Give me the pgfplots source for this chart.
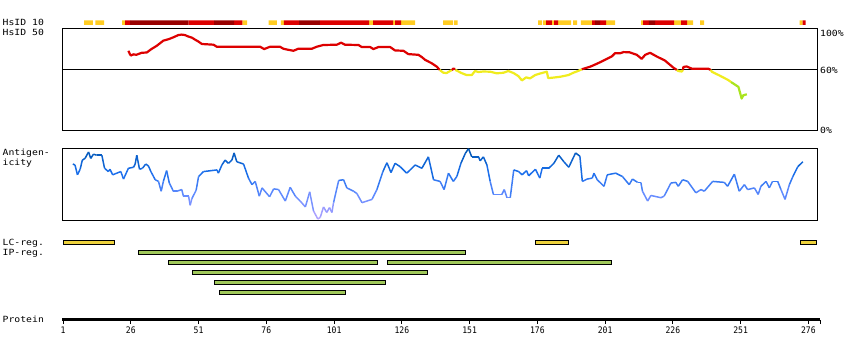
\documentclass[border=0pt]{standalone}
\usepackage{fontspec}
\usepackage{pgfplots}
\pgfplotsset{compat=1.18}
\newfontfamily\lblfont[FakeStretch=1.15]{DejaVu Sans Mono}
\newfontfamily\tickfamily[FakeStretch=0.9]{DejaVu Sans Mono}
\newcommand\lbl{\lblfont\fontsize{8.5}{9}\selectfont}
\newcommand\tickf{\tickfamily\fontsize{9}{10}\selectfont}
\definecolor{gold}{RGB}{255,204,34}
\definecolor{hred}{RGB}{221,0,0}
\definecolor{dred}{RGB}{153,0,0}
\definecolor{hyel}{RGB}{240,236,30}
\definecolor{hgrn}{RGB}{170,228,30}
\definecolor{lcfill}{RGB}{238,210,60}
\definecolor{ipfill}{RGB}{160,200,90}
\pgfplotsset{
  colormap={antig}{rgb255(0cm)=(185,165,255) rgb255(1cm)=(100,140,255) rgb255(2cm)=(25,110,235) rgb255(3cm)=(0,85,175)},
  panel/.style={scale only axis, xmin=0.6, xmax=279.2, width=755pt, anchor=south west,
    xtick=\empty, ytick=\empty, axis line style={line width=1pt}},
}
\begin{document}
\begin{tikzpicture}
\useasboundingbox (0pt,0pt) rectangle (850pt,-360pt);
% ---------- HsID 10 strip: one block per interval, blocks separated by nan jumps
\begin{axis}[panel, hide axis, height=4.6pt, ymin=0, ymax=1, at={(62pt,-24.9pt)}, unbounded coords=jump]
\addplot[fill=gold, draw=none] coordinates {
(8.75,0)(8.75,1)(12,1)(12,0)(12,nan)
(12.9,0)(12.9,1)(16.1,1)(16.1,0)(16.1,nan)
(22.8,0)(22.8,1)(23.9,1)(23.9,0)(23.9,nan)
(67.2,0)(67.2,1)(68.9,1)(68.9,0)(68.9,nan)
(76.8,0)(76.8,1)(79.9,1)(79.9,0)(79.9,nan)
(81.4,0)(81.4,1)(82.5,1)(82.5,0)(82.5,nan)
(113.9,0)(113.9,1)(115.4,1)(115.4,0)(115.4,nan)
(122.8,0)(122.8,1)(123.5,1)(123.5,0)(123.5,nan)
(125.7,0)(125.7,1)(130.9,1)(130.9,0)(130.9,nan)
(141.2,0)(141.2,1)(144.9,1)(144.9,0)(144.9,nan)
(145.3,0)(145.3,1)(146.6,1)(146.6,0)(146.6,nan)
(176.3,0)(176.3,1)(177.8,1)(177.8,0)(177.8,nan)
(178.1,0)(178.1,1)(179.2,1)(179.2,0)(179.2,nan)
(181.4,0)(181.4,1)(182.2,1)(182.2,0)(182.2,nan)
(183.7,0)(183.7,1)(188.5,1)(188.5,0)(188.5,nan)
(189.2,0)(189.2,1)(190.7,1)(190.7,0)(190.7,nan)
(192.1,0)(192.1,1)(196.2,1)(196.2,0)(196.2,nan)
(201.4,0)(201.4,1)(204.7,1)(204.7,0)(204.7,nan)
(214.3,0)(214.3,1)(215,1)(215,0)(215,nan)
(226.5,0)(226.5,1)(229.1,1)(229.1,0)(229.1,nan)
(231.3,0)(231.3,1)(233.5,1)(233.5,0)(233.5,nan)
(236.1,0)(236.1,1)(237.5,1)(237.5,0)(237.5,nan)
(272.8,0)(272.8,1)(273.9,1)(273.9,0)};
\addplot[fill=hred, draw=none] coordinates {
(23.9,0)(23.9,1)(25.7,1)(25.7,0)(25.7,nan)
(47.2,0)(47.2,1)(56.7,1)(56.7,0)(56.7,nan)
(64.1,0)(64.1,1)(67.2,1)(67.2,0)(67.2,nan)
(82.5,0)(82.5,1)(88.1,1)(88.1,0)(88.1,nan)
(95.8,0)(95.8,1)(113.9,1)(113.9,0)(113.9,nan)
(115.4,0)(115.4,1)(122.8,1)(122.8,0)(122.8,nan)
(123.5,0)(123.5,1)(125.7,1)(125.7,0)(125.7,nan)
(179.2,0)(179.2,1)(181.4,1)(181.4,0)(181.4,nan)
(182.2,0)(182.2,1)(183.7,1)(183.7,0)(183.7,nan)
(196.2,0)(196.2,1)(197.3,1)(197.3,0)(197.3,nan)
(199.2,0)(199.2,1)(201.4,1)(201.4,0)(201.4,nan)
(215,0)(215,1)(217.2,1)(217.2,0)(217.2,nan)
(219.5,0)(219.5,1)(226.5,1)(226.5,0)(226.5,nan)
(229.1,0)(229.1,1)(231.3,1)(231.3,0)(231.3,nan)
(273.9,0)(273.9,1)(275,1)(275,0)};
\addplot[fill=dred, draw=none] coordinates {
(25.7,0)(25.7,1)(47.2,1)(47.2,0)(47.2,nan)
(56.7,0)(56.7,1)(64.1,1)(64.1,0)(64.1,nan)
(88.1,0)(88.1,1)(95.8,1)(95.8,0)(95.8,nan)
(197.3,0)(197.3,1)(199.2,1)(199.2,0)(199.2,nan)
(217.2,0)(217.2,1)(219.5,1)(219.5,0)};
\end{axis}
% ---------- HsID 50 panel
\begin{axis}[panel, height=102.4pt, ymin=0, ymax=101.2, at={(62pt,-130.7pt)}]
\addplot[black, line width=1pt] coordinates {(0.6,60)(279.2,60)};
\addplot[hred, line width=2.2pt, line join=round] coordinates {(25.1,79)(25.6,76)(26,74.3)(27,75.5)(28,75)(30,77)(31.9,77.3)(33.5,80.5)(35.6,84)(38,89)(40,90.5)(41.7,92.3)(43.5,94.5)(44.8,95)(46,94.5)(47,93.3)(48.5,92)(49.7,90)(51,88)(52.2,85.7)(56.5,85)(57.7,83)(73.7,83)(75.2,80.7)(77.4,83)(81,83)(82.3,81)(84,80)(86,79)(87.8,81)(92.8,81)(94.6,83)(97,84.7)(102,85)(103.6,87)(105,85)(110,84.7)(111.2,82.7)(114.3,82.7)(115.5,80.7)(117.4,82.7)(121.7,82.7)(123.5,79.3)(126.6,79)(128.4,75.7)(132.1,75)(133.5,72.5)(134.6,70)(137,66.7)(138.9,63.3)(140,60)};
\addplot[hyel, line width=2.2pt, line join=round] coordinates {(140,60)(141.3,57.3)(142.5,57)(143.8,59)(144.5,60)};
\addplot[hred, line width=2.2pt] coordinates {(144.5,60)(145,61.3)(145.7,61)};
\addplot[hyel, line width=2.2pt, line join=round] coordinates {(145.7,60)(146.2,59.5)(148,57)(149.9,55)(151.8,55)(153,59)(154.3,58)(156,58.5)(158.6,58.3)(161,56.7)(163.5,57.3)(165.3,59)(167.2,57)(169,54)(170.3,49.7)(171.9,52.7)(173.3,51.7)(175.2,55)(177,56.5)(179.5,58.3)(180,52)(182,52.5)(184.4,53.3)(187.5,55)(189.3,57.3)(191,59)(192.4,60.7)};
\addplot[hred, line width=2.2pt, line join=round] coordinates {(192.4,60.7)(195.5,63.3)(197,65)(199.2,67.7)(202.2,71.7)(203.5,73.5)(204.7,76.7)(206.5,76.5)(207.8,77.7)(210,77.5)(212.7,75)(214.5,71)(215.8,75)(217.6,77)(220.1,73.3)(223.1,69.3)(226.2,62.3)(227.5,60)};
\addplot[hyel, line width=2.2pt, line join=round] coordinates {(227.5,60)(228,59)(229.3,58.5)(229.7,60)};
\addplot[hred, line width=2.2pt, line join=round] coordinates {(229.7,60)(229.9,63)(231.1,63.5)(233,61.3)(239.1,61.3)(240,60)};
\addplot[hyel, line width=2.2pt, line join=round] coordinates {(240,60)(240.4,58.3)(243.4,54.3)(246.5,50)(247.5,48)};
\addplot[hgrn, line width=2.2pt, line join=round] coordinates {(247.5,48)(248.3,46.7)(250.2,43.3)(251.4,31.7)(252,35)(253.3,36)};
\end{axis}
\node[anchor=base west, inner sep=0] at (820pt,-36.5pt) {\lbl 100\%};
\node[anchor=base west, inner sep=0] at (820pt,-73.5pt) {\lbl 60\%};
\node[anchor=base west, inner sep=0] at (820pt,-133.5pt) {\lbl 0\%};
% ---------- Antigenicity panel
\begin{axis}[panel, height=71.7pt, ymin=-1, ymax=72, at={(62pt,-220pt)}, colormap name=antig]
\addplot[mesh, point meta=y, line width=1.5pt, line join=round] coordinates {
(4.6,56)(5.4,55)(6.3,45)(7.3,50.7)(8.1,60)(9.1,61.7)(10.4,68.3)(11.2,61.7)(12.2,66)(13.4,65)(15.3,65)(16.3,51.7)(17.7,48.3)(18.3,50.7)(19.3,45)(20.8,46.7)(22.3,48.3)(23.3,40.7)(25.1,51.7)(27,52.7)(27.6,56)(28.2,65)(29.2,50.7)(30.3,51.7)(31.5,56)(32.5,54)(33.4,48.3)(35,40)(36.2,38.3)(37.2,28.3)(38,38.3)(39.2,49.3)(40.2,36.7)(41.7,28.3)(43,28.3)(44.8,30)(45.4,23.3)(47.3,23.3)(47.9,14)(48.5,20.7)(50.1,29.3)(51,43.3)(52.8,48.3)(57.8,50)(58.3,46.7)(59.6,55)(60.8,60)(62,56.7)(63.3,60)(64.1,67.3)(65.1,58.3)(67.6,56)(69.4,41.7)(70.7,35)(71.9,38.3)(73.4,23.3)(74.4,31.7)(77.2,22.7)(78.7,30.7)(80.5,30)(83,18.3)(84.8,32.3)(86.7,23.3)(88.5,18.3)(90.4,12.3)(92,27.7)(93.4,8.3)(95,0)(95.9,1.7)(97.1,12.3)(98.3,6.7)(99.3,11.7)(100.2,6.7)(100.8,16.7)(102.7,39.3)(104.5,40)(105.7,31.7)(108.2,28.3)(109.4,26)(111.3,16.7)(113.1,18.3)(115,20)(116.8,30)(119,48.3)(120.5,57.3)(122,47.3)(123.5,56.7)(125.4,53.3)(127.8,46.7)(129.1,50)(130.9,55)(133.4,51.7)(135.8,63.3)(137.7,40)(140.1,38.3)(141.6,30)(143.2,46.7)(145,38.3)(146.3,43.3)(147.8,56.7)(149.4,66.7)(150.6,71.7)(151.8,63.3)(154.3,63.3)(154.9,59.3)(156.1,63.3)(157.4,55)(158.6,38.3)(159.8,25)(162.9,25)(163.8,30)(164.8,21.7)(166,21.7)(167.3,50)(169.1,48.3)(170.4,45)(172,49.3)(172.8,44)(175.3,50.7)(176.9,41.7)(177.8,51.7)(180.2,51.7)(182.1,56.7)(183.9,65)(185.8,58.3)(187.6,52.7)(190.1,67.3)(191.7,64)(192.6,38.3)(194.4,40.7)(196.3,41.7)(196.9,46.7)(198.1,40)(200.6,33.3)(201.8,45)(204.9,46.7)(207.4,43.3)(209.9,35)(211.1,40.7)(213,37.3)(214.2,37.3)(214.8,28.3)(216.7,18.3)(217.9,24)(221.6,21.7)(222.8,23.3)(225.3,36.7)(227.1,37.3)(228,33.3)(229.6,40)(231.5,38.3)(234.5,26.7)(236.4,30)(237.6,28.3)(240.7,38.3)(245,37.3)(246.2,33.3)(248.7,45.7)(250.5,28.3)(252.4,35)(253.6,30)(256.1,31.7)(257.5,25)(258.5,33.3)(260.4,38.3)(261.6,31.7)(262.8,38.3)(264.7,38.3)(265.9,30)(267.4,20)(269,35)(270.3,43.3)(272.1,53.3)(274,58.3)};
\end{axis}
% ---------- LC / IP regions
\begin{axis}[panel, hide axis, y dir=reverse, ymin=-0.5, ymax=5.5, height=60pt, at={(62pt,-297.5pt)}]
\addplot[fill=lcfill, draw=black, line width=0.8pt] coordinates {(1.1,-0.22)(20.1,-0.22)(20.1,0.22)(1.1,0.22)(1.1,-0.22)};
\addplot[fill=lcfill, draw=black, line width=0.8pt] coordinates {(175.3,-0.22)(187.6,-0.22)(187.6,0.22)(175.3,0.22)(175.3,-0.22)};
\addplot[fill=lcfill, draw=black, line width=0.8pt] coordinates {(273,-0.22)(279,-0.22)(279,0.22)(273,0.22)(273,-0.22)};
\addplot[fill=ipfill, draw=black, line width=0.8pt] coordinates {(28.8,0.78)(149.6,0.78)(149.6,1.22)(28.8,1.22)(28.8,0.78)};
\addplot[fill=ipfill, draw=black, line width=0.8pt] coordinates {(39.9,1.78)(116.8,1.78)(116.8,2.22)(39.9,2.22)(39.9,1.78)};
\addplot[fill=ipfill, draw=black, line width=0.8pt] coordinates {(120.7,1.78)(203.5,1.78)(203.5,2.22)(120.7,2.22)(120.7,1.78)};
\addplot[fill=ipfill, draw=black, line width=0.8pt] coordinates {(48.7,2.78)(135.6,2.78)(135.6,3.22)(48.7,3.22)(48.7,2.78)};
\addplot[fill=ipfill, draw=black, line width=0.8pt] coordinates {(56.8,3.78)(119.8,3.78)(119.8,4.22)(56.8,4.22)(56.8,3.78)};
\addplot[fill=ipfill, draw=black, line width=0.8pt] coordinates {(58.7,4.78)(105.1,4.78)(105.1,5.22)(58.7,5.22)(58.7,4.78)};
\end{axis}
% ---------- Protein axis
\begin{axis}[scale only axis, width=758pt, height=10pt, at={(62pt,-319.5pt)}, anchor=south west,
  xmin=0.6, xmax=280.3, ymin=0, ymax=1,
  axis y line=none, axis x line*=bottom, x axis line style={line width=3pt, -},
  xtick={1,26,...,276}, extra x ticks={280.3}, extra x tick labels={},
  tick align=outside, major tick length=4.5pt, tick style={black, line width=1pt},
  xticklabel style={font=\tickf, yshift=0.5pt},
  /pgf/number format/assume math mode=true]
\end{axis}
% ---------- labels
\node[anchor=base west, inner sep=0] at (2.5pt,-25.7pt) {\lbl HsID 10};
\node[anchor=base west, inner sep=0] at (2.5pt,-35.7pt) {\lbl HsID 50};
\node[anchor=base west, inner sep=0] at (2.5pt,-155.8pt) {\lbl Antigen-};
\node[anchor=base west, inner sep=0] at (2.5pt,-165.5pt) {\lbl icity};
\node[anchor=base west, inner sep=0] at (2.5pt,-245.7pt) {\lbl LC-reg.};
\node[anchor=base west, inner sep=0] at (2.5pt,-255.7pt) {\lbl IP-reg.};
\node[anchor=base west, inner sep=0] at (2.5pt,-322.3pt) {\lbl Protein};
\end{tikzpicture}
\end{document}
